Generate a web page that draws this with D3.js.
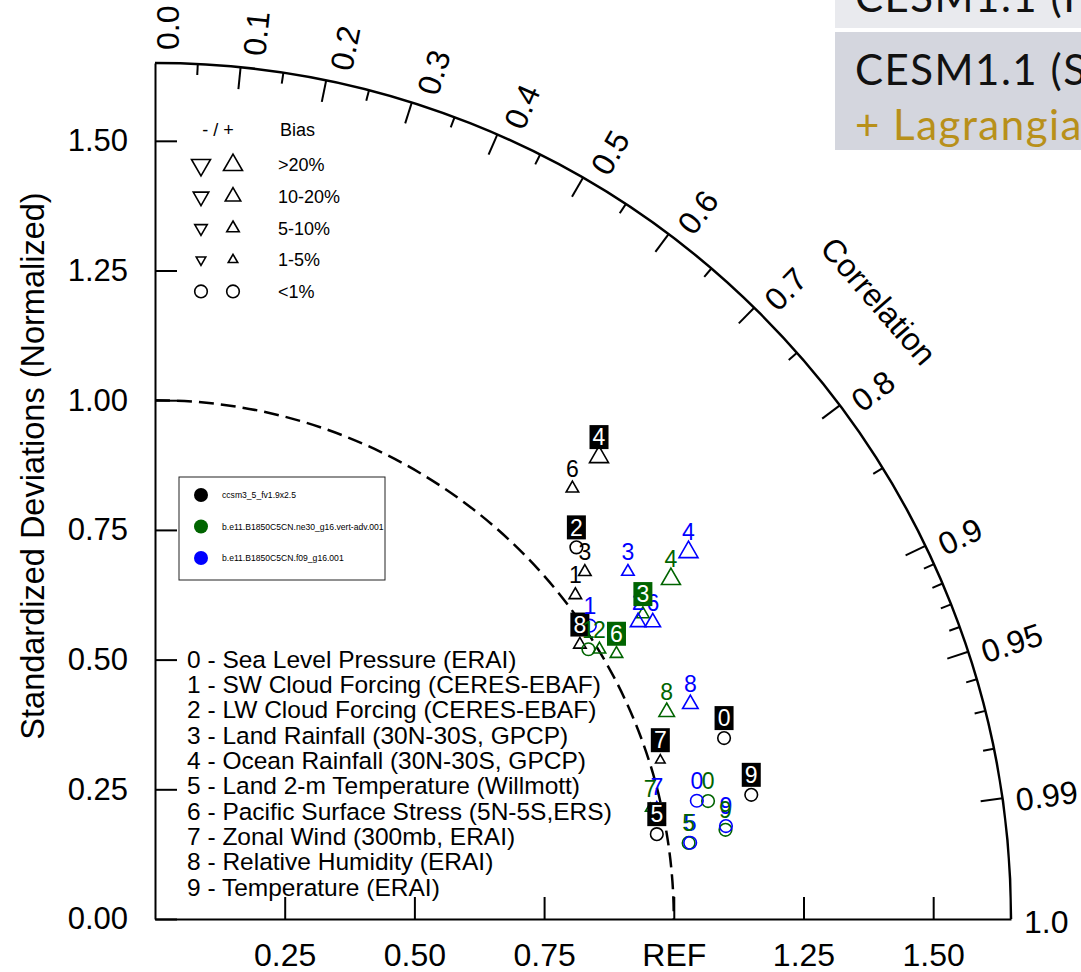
<!DOCTYPE html>
<html>
<head>
<meta charset="utf-8">
<script src="https://cdn.jsdelivr.net/npm/d3@7"></script>
<style>
  body { margin: 0; background: #fff; }
  svg { display: block; font-family: "Liberation Sans", Arial, Helvetica, sans-serif; }
</style>
</head>
<body>
<div id="chart"></div>
<script>
// cases (colour per case)
var caseNames = ["ccsm3_5_fv1.9x2.5", "b.e11.B1850C5CN.ne30_g16.vert-adv.001", "b.e11.B1850C5CN.f09_g16.001"];
var caseColors = ["#000000", "#006400", "#0000ff"];

var varNames = [
    "Sea Level Pressure (ERAI)",
    "SW Cloud Forcing (CERES-EBAF)",
    "LW Cloud Forcing (CERES-EBAF)",
    "Land Rainfall (30N-30S, GPCP)",
    "Ocean Rainfall (30N-30S, GPCP)",
    "Land 2-m Temperature (Willmott)",
    "Pacific Surface Stress (5N-5S,ERS)",
    "Zonal Wind (300mb, ERAI)",
    "Relative Humidity (ERAI)",
    "Temperature (ERAI)"
];

// normalized standard deviation, correlation and bias (%) per variable
var ratioA = [1.151, 1.023, 1.083, 1.065, 1.235, 0.981, 1.156, 1.021, 0.975, 1.174];
var corrA  = [0.953, 0.792, 0.750, 0.778, 0.693, 0.986, 0.696, 0.954, 0.840, 0.979];
var biasA  = [0.5, 7, 0.5, 7, 25, 0.5, 8, 3, 6, 0.5];
var boxedA = [1, 0, 1, 0, 1, 1, 0, 1, 1, 1];

var ratioB = [1.090, 0.984, 1.002, 1.109, 1.191, 1.039, 1.026, 0.978, 1.064, 1.113];
var corrB  = [0.978, 0.849, 0.855, 0.848, 0.835, 0.990, 0.867, 0.976, 0.927, 0.988];
var biasB  = [0.5, 0.5, 7, 6, 22, 0.5, 7, 3, 14, 0.5];
var boxedB = [0, 0, 0, 1, 0, 0, 1, 0, 0, 0];

var ratioC = [1.069, 1.011, 1.093, 1.131, 1.248, 1.042, 1.117, 0.991, 1.112, 1.115];
var corrC  = [0.977, 0.829, 0.852, 0.806, 0.824, 0.990, 0.859, 0.976, 0.928, 0.987];
var biasC  = [0.5, 0.5, 12, 7, 24, 0.5, 13, 3, 15, 0.5];
var boxedC = [0, 0, 0, 0, 0, 0, 0, 0, 0, 0];

// axis ticks
var stdTicks = [0, 0.25, 0.5, 0.75, 1.0, 1.25, 1.5];
var xTicks = [0.25, 0.5, 0.75, 1.0, 1.25, 1.5];
var corrMajor = [0.1, 0.2, 0.3, 0.4, 0.5, 0.6, 0.7, 0.8, 0.9, 0.95, 0.99];
var corrMinor = [0.05, 0.15, 0.25, 0.35, 0.45, 0.55, 0.65, 0.75, 0.85, 0.91, 0.92, 0.93, 0.94, 0.96, 0.97, 0.98];
var corrLabels = ["0.0", "0.1", "0.2", "0.3", "0.4", "0.5", "0.6", "0.7", "0.8", "0.9", "0.95", "0.99", "1.0"];

// bias legend
var biasLabels = [">20%", "10-20%", "5-10%", "1-5%", "<1%"];
var biasSamples = [25, 15, 7, 3, 0.5];

var W = 1081, H = 972;
var ox = 155, oy = 919, rMax = 1.65, R = 856;

var svg = d3.select("#chart").append("svg")
    .attr("width", W).attr("height", H);

var x = d3.scaleLinear().domain([0, rMax]).range([ox, ox + R]);
var y = d3.scaleLinear().domain([0, rMax]).range([oy, oy - R]);
var rad = d3.scaleLinear().domain([0, rMax]).range([0, R]);

function pos(r, c) {
    var a = Math.acos(c);
    return [ox + rad(r) * Math.cos(a), oy - rad(r) * Math.sin(a)];
}

// bias class: 0 = <1%, 1 = 1-5%, ... 4 = >20%
function biasClass(b) {
    var v = Math.abs(b);
    if (v > 20) return 4;
    if (v > 10) return 3;
    if (v > 5) return 2;
    if (v > 1) return 1;
    return 0;
}
var triSize = [0, 9.5, 12.5, 15.5, 19];

function markerPath(b) {
    var k = biasClass(b);
    if (k === 0) {
        var p = d3.path();
        p.arc(0, 0, 6.3, 0, 2 * Math.PI);
        return p.toString();
    }
    var w = triSize[k], h = w * 0.866, s = b < 0 ? -1 : 1;
    return "M0," + (-s * 2 * h / 3) + "L" + (w / 2) + "," + (s * h / 3) + "L" + (-w / 2) + "," + (s * h / 3) + "Z";
}

// ---------- axes ----------
var yAxis = d3.axisLeft(y).tickValues(stdTicks).tickFormat(d3.format(".2f"))
    .tickSizeInner(-22).tickSizeOuter(0).tickPadding(27);
var gy = svg.append("g").attr("transform", "translate(" + ox + ",0)").call(yAxis);

var xAxis = d3.axisBottom(x).tickValues(xTicks)
    .tickFormat(function(d) { return d === 1 ? "REF" : d3.format(".2f")(d); })
    .tickSizeInner(-22).tickSizeOuter(0).tickPadding(24);
var gx = svg.append("g").attr("transform", "translate(0," + oy + ")").call(xAxis);

[gx, gy].forEach(function(g) {
    g.select(".domain").attr("stroke", "#000").attr("stroke-width", 2);
    g.selectAll(".tick line").attr("stroke", "#000").attr("stroke-width", 2);
    g.selectAll(".tick text").attr("fill", "#000").style("font-family", "Liberation Sans, Arial, sans-serif");
});
gy.selectAll(".tick text").style("font-size", "31px");
gx.selectAll(".tick text").style("font-size", "32px");

svg.append("text")
    .attr("transform", "translate(44,466) rotate(-90)")
    .attr("text-anchor", "middle")
    .style("font-size", "32.5px")
    .text("Standardized Deviations (Normalized)");

// ---------- correlation arc ----------
var arc = d3.path();
arc.moveTo(ox, oy - R);
arc.arc(ox, oy, R, -Math.PI / 2, 0);
svg.append("path").attr("d", arc.toString())
    .attr("fill", "none").attr("stroke", "#000").attr("stroke-width", 2.5);

// reference std-dev arc
var refArc = d3.path();
refArc.moveTo(ox, y(1));
refArc.arc(ox, oy, rad(1), -Math.PI / 2, 0);
svg.append("path").attr("d", refArc.toString())
    .attr("fill", "none").attr("stroke", "#000").attr("stroke-width", 2.5)
    .attr("stroke-dasharray", "15,7");

function corrTicks(vals, len) {
    svg.append("g").selectAll("line").data(vals).enter().append("line")
        .attr("x1", function(c) { return ox + R * c; })
        .attr("y1", function(c) { return oy - R * Math.sin(Math.acos(c)); })
        .attr("x2", function(c) { return ox + (R - len) * c; })
        .attr("y2", function(c) { return oy - (R - len) * Math.sin(Math.acos(c)); })
        .attr("stroke", "#000").attr("stroke-width", 2);
}
corrTicks(corrMajor, 22);
corrTicks(corrMinor, 11);

svg.append("g").selectAll("text").data(corrLabels).enter().append("text")
    .attr("transform", function(d) {
        var c = +d, a = Math.acos(c);
        var px = ox + (R + 13) * c, py = oy - (R + 13) * Math.sin(a);
        return "translate(" + px + "," + py + ") rotate(" + (-a * 180 / Math.PI) + ")";
    })
    .attr("dy", function(d) { var a = Math.acos(+d); return (11.5 + 2 + 10 * Math.sin(a)) + "px"; })
    .style("font-size", "32px")
    .text(function(d) { return d; });

var corrAng = 40.5 * Math.PI / 180;
svg.append("text")
    .attr("transform", "translate(" + (ox + 952 * Math.cos(corrAng)) + "," + (oy - 952 * Math.sin(corrAng)) + ") rotate(49)")
    .attr("text-anchor", "middle").attr("dy", "0.36em")
    .style("font-size", "32px")
    .text("Correlation");

// ---------- variable list ----------
svg.append("g").selectAll("text").data(varNames).enter().append("text")
    .attr("x", 187)
    .attr("y", function(d, i) { return 659 + i * 25.3; })
    .attr("dy", "0.36em")
    .style("font-size", "24.5px")
    .text(function(d, i) { return i + " - " + d; });

// ---------- case legend ----------
var cl = svg.append("g");
cl.append("rect").attr("x", 179).attr("y", 477).attr("width", 206).attr("height", 103)
    .attr("fill", "#fff").attr("stroke", "#222").attr("stroke-width", 1);
caseNames.forEach(function(name, k) {
    var cy = 495 + k * 31.5;
    cl.append("circle").attr("cx", 201).attr("cy", cy).attr("r", 7).attr("fill", caseColors[k]);
    cl.append("text").attr("x", 222).attr("y", cy).attr("dy", "0.35em")
        .style("font-size", "8.6px").text(name);
});

// ---------- bias legend ----------
var bl = svg.append("g");
bl.append("text").attr("x", 218).attr("y", 130).attr("dy", "0.36em")
    .attr("text-anchor", "middle").style("font-size", "18px").text("- / +");
bl.append("text").attr("x", 280).attr("y", 130).attr("dy", "0.36em")
    .style("font-size", "18px").text("Bias");
biasLabels.forEach(function(lab, i) {
    var cy = 165 + i * 31.6;
    bl.append("path").attr("transform", "translate(201," + cy + ")")
        .attr("d", markerPath(-biasSamples[i]))
        .attr("fill", "none").attr("stroke", "#000").attr("stroke-width", 1.6);
    bl.append("path").attr("transform", "translate(233," + cy + ")")
        .attr("d", markerPath(biasSamples[i]))
        .attr("fill", "none").attr("stroke", "#000").attr("stroke-width", 1.6);
    bl.append("text").attr("x", 278).attr("y", cy).attr("dy", "0.36em")
        .style("font-size", "18px").text(lab);
});

// ---------- points ----------
var cases = [
    { ratio: ratioA, corr: corrA, bias: biasA, boxed: boxedA, color: caseColors[0] },
    { ratio: ratioB, corr: corrB, bias: biasB, boxed: boxedB, color: caseColors[1] },
    { ratio: ratioC, corr: corrC, bias: biasC, boxed: boxedC, color: caseColors[2] }
];

var markers = svg.append("g");
cases.forEach(function(cs) {
    cs.ratio.forEach(function(r, i) {
        var p = pos(r, cs.corr[i]);
        markers.append("path")
            .attr("transform", "translate(" + p[0] + "," + p[1] + ")")
            .attr("d", markerPath(cs.bias[i]))
            .attr("fill", "none").attr("stroke", cs.color).attr("stroke-width", 1.6);
    });
});

// labels: black, then blue, then green on top
var labels = svg.append("g");
[cases[0], cases[2], cases[1]].forEach(function(cs) {
    cs.ratio.forEach(function(r, i) {
        var p = pos(r, cs.corr[i]);
        var lx = p[0], ly = p[1] - 20;
        if (cs.boxed[i]) {
            labels.append("rect").attr("x", lx - 9.5).attr("y", ly - 12)
                .attr("width", 19).attr("height", 24).attr("fill", cs.color);
        }
        labels.append("text").attr("x", lx).attr("y", ly).attr("dy", "0.36em")
            .attr("text-anchor", "middle")
            .attr("fill", cs.boxed[i] ? "#fff" : cs.color)
            .style("font-size", "23px")
            .text(i);
    });
});

// ---------- slide title boxes (top right) ----------
var tb = svg.append("g").style("font-family", "Lato, 'Open Sans', sans-serif")
    .style("font-size", "42px").style("letter-spacing", "1.5px");
tb.append("rect").attr("x", 835).attr("y", -5).attr("width", 250).attr("height", 33).attr("fill", "#e9eaee");
tb.append("text").attr("x", 855).attr("y", 12).attr("fill", "#111").text("CESM1.1 (FV)");
tb.append("rect").attr("x", 835).attr("y", 32).attr("width", 250).attr("height", 118).attr("fill", "#d4d6de");
tb.append("text").attr("x", 855).attr("y", 85).attr("fill", "#111").text("CESM1.1 (SE)");
tb.append("text").attr("x", 855).attr("y", 140).attr("fill", "#b8901a").text("+ Lagrangian");
</script>
</body>
</html>
